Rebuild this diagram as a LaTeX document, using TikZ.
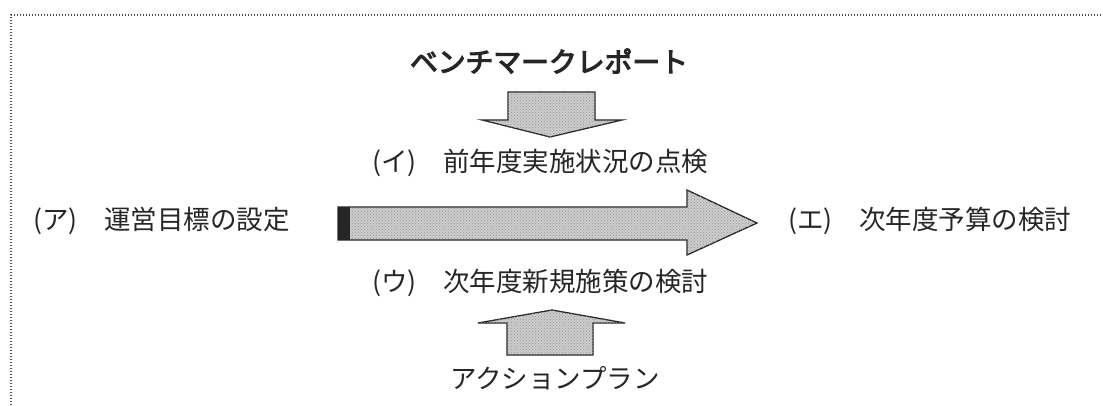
\documentclass[tikz,border=0pt]{standalone}
\usepackage{fontspec}
\newfontfamily\jp{Noto Sans CJK JP}
\newfontfamily\jpb[FakeBold=4]{Noto Sans CJK JP}
\usetikzlibrary{patterns}
\begin{document}
\begin{tikzpicture}[x=1pt,y=-1pt,
  lbl/.style={font=\jp\fontsize{26.5}{30}\selectfont, text=black!85, inner sep=0pt},
  blk/.style={draw=black!85, line width=1.3pt, fill=black!20, line join=miter,
              postaction={pattern=crosshatch dots, pattern color=black!40}}]
\useasboundingbox (0,0) rectangle (1103,405);
\fill[white] (0,0) rectangle (1103,405);
% dotted frame (runs off right and bottom)
\draw[black!70, line width=1.1pt, dash pattern=on 1.3pt off 1.7pt] (11,420) -- (11,15) -- (1120,15);

% top label and arrow
\node[lbl, font=\jpb\fontsize{27.8}{30}\selectfont] (bench) at (549,61) {ベンチマークレポート};
\path[blk] (508,92) -- (595,92) -- (595,120) -- (622,120) -- (550,137) -- (482,120) -- (508,120) -- cycle;
\node[lbl, anchor=west] (i) at (372,163) {(イ)　前年度実施状況の点検};

% main arrow
\path[blk] (338,207) -- (687,207) -- (687,190) -- (757,223) -- (687,255) -- (687,240) -- (338,240) -- cycle;
\fill[black!85] (338,207) rectangle (350,240);
\node[lbl, anchor=west] (a) at (33,221) {(ア)　運営目標の設定};
\node[lbl, anchor=west] (e) at (788,221) {(エ)　次年度予算の検討};

% bottom label and arrow
\node[lbl, anchor=west] (u) at (372,283) {(ウ)　次年度新規施策の検討};
\path[blk] (507,355) -- (507,323) -- (478,323) -- (552,310) -- (625,323) -- (593,323) -- (593,355) -- cycle;
\node[lbl] (plan) at (555,378) {アクションプラン};
\end{tikzpicture}
\end{document}
